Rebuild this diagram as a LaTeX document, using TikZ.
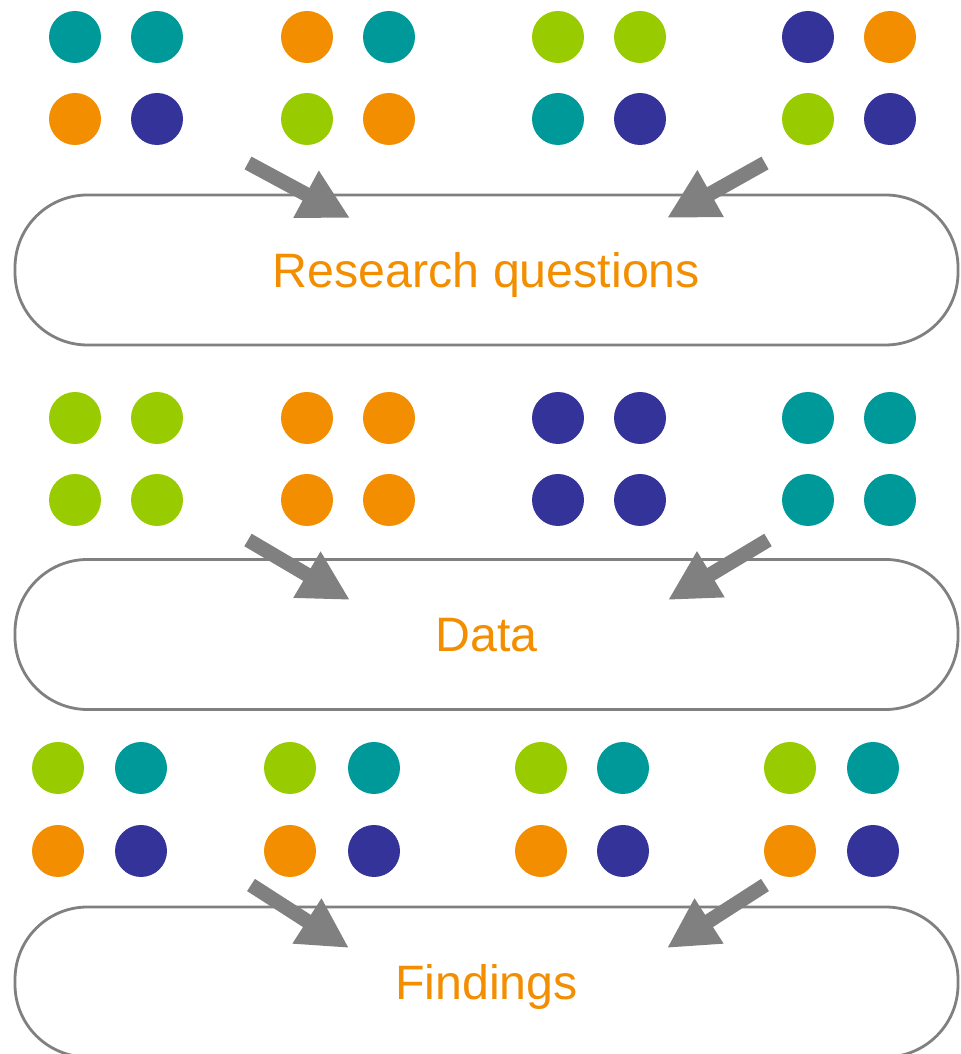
\documentclass[tikz,border=0pt]{standalone}
\usepackage{fontspec}
\setmainfont{Liberation Sans}
\usetikzlibrary{arrows.meta}
\definecolor{teal}{HTML}{009999}
\definecolor{orng}{HTML}{F28E00}
\definecolor{lime}{HTML}{99CC00}
\definecolor{navy}{HTML}{333399}
\definecolor{grau}{HTML}{808080}

\begin{document}
\begin{tikzpicture}[
    dot/.style={circle, inner sep=0pt, minimum size=1.04cm},
    stage/.style={draw=grau, line width=1.6pt, rounded corners=1.45cm,
        minimum width=18.86cm, minimum height=3cm, text=orng, text depth=0pt,
        font=\fontsize{27.5}{33}\selectfont},
    pfeil/.style={draw=grau, line width=0.29cm,
        -{Triangle[length=1cm, width=1cm]}}
]
    \useasboundingbox (0,0) rectangle (19.2,21.08);
    % erste Reihe
    \node[dot, fill=teal] (A1) at (1.5,20.34) {};
    \node[dot, fill=teal] (A2) at (3.14,20.34) {};
    \node[dot, fill=orng] (A3) at (1.5,18.7) {};
    \node[dot, fill=navy] (A4) at (3.14,18.7) {};
    \node[dot, fill=orng] (A5) at (6.14,20.34) {};
    \node[dot, fill=teal] (A6) at (7.78,20.34) {};
    \node[dot, fill=lime] (A7) at (6.14,18.7) {};
    \node[dot, fill=orng] (A8) at (7.78,18.7) {};
    \node[dot, fill=lime] (A9) at (11.16,20.34) {};
    \node[dot, fill=lime] (A10) at (12.8,20.34) {};
    \node[dot, fill=teal] (A11) at (11.16,18.7) {};
    \node[dot, fill=navy] (A12) at (12.8,18.7) {};
    \node[dot, fill=navy] (A13) at (16.16,20.34) {};
    \node[dot, fill=orng] (A14) at (17.8,20.34) {};
    \node[dot, fill=lime] (A15) at (16.16,18.7) {};
    \node[dot, fill=navy] (A16) at (17.8,18.7) {};
    \node[stage] (Q) at (9.73,15.68) {Research questions};
    \coordinate (tA1) at (4.96,17.82);
    \coordinate (hA1) at (7.0,16.72);
    \coordinate (tA2) at (15.3,17.82);
    \coordinate (hA2) at (13.34,16.72);
    \draw[pfeil] (tA1) -- (hA1);
    \draw[pfeil] (tA2) -- (hA2);
    % zweite Reihe
    \node[dot, fill=lime] (B1) at (1.5,12.72) {};
    \node[dot, fill=lime] (B2) at (3.14,12.72) {};
    \node[dot, fill=lime] (B3) at (1.5,11.08) {};
    \node[dot, fill=lime] (B4) at (3.14,11.08) {};
    \node[dot, fill=orng] (B5) at (6.14,12.72) {};
    \node[dot, fill=orng] (B6) at (7.78,12.72) {};
    \node[dot, fill=orng] (B7) at (6.14,11.08) {};
    \node[dot, fill=orng] (B8) at (7.78,11.08) {};
    \node[dot, fill=navy] (B9) at (11.16,12.72) {};
    \node[dot, fill=navy] (B10) at (12.8,12.72) {};
    \node[dot, fill=navy] (B11) at (11.16,11.08) {};
    \node[dot, fill=navy] (B12) at (12.8,11.08) {};
    \node[dot, fill=teal] (B13) at (16.16,12.72) {};
    \node[dot, fill=teal] (B14) at (17.8,12.72) {};
    \node[dot, fill=teal] (B15) at (16.16,11.08) {};
    \node[dot, fill=teal] (B16) at (17.8,11.08) {};
    \node[stage] (D) at (9.73,8.39) {Data};
    \coordinate (tB1) at (4.96,10.28);
    \coordinate (hB1) at (7.0,9.08);
    \coordinate (tB2) at (15.36,10.28);
    \coordinate (hB2) at (13.36,9.08);
    \draw[pfeil] (tB1) -- (hB1);
    \draw[pfeil] (tB2) -- (hB2);
    % dritte Reihe
    \node[dot, fill=lime] (C1) at (1.16,5.72) {};
    \node[dot, fill=teal] (C2) at (2.82,5.72) {};
    \node[dot, fill=orng] (C3) at (1.16,4.06) {};
    \node[dot, fill=navy] (C4) at (2.82,4.06) {};
    \node[dot, fill=lime] (C5) at (5.8,5.72) {};
    \node[dot, fill=teal] (C6) at (7.48,5.72) {};
    \node[dot, fill=orng] (C7) at (5.8,4.06) {};
    \node[dot, fill=navy] (C8) at (7.48,4.06) {};
    \node[dot, fill=lime] (C9) at (10.82,5.72) {};
    \node[dot, fill=teal] (C10) at (12.46,5.72) {};
    \node[dot, fill=orng] (C11) at (10.82,4.06) {};
    \node[dot, fill=navy] (C12) at (12.46,4.06) {};
    \node[dot, fill=lime] (C13) at (15.8,5.72) {};
    \node[dot, fill=teal] (C14) at (17.46,5.72) {};
    \node[dot, fill=orng] (C15) at (15.8,4.06) {};
    \node[dot, fill=navy] (C16) at (17.46,4.06) {};
    \node[stage] (F) at (9.73,1.44) {Findings};
    \coordinate (tC1) at (5.02,3.38);
    \coordinate (hC1) at (6.98,2.12);
    \coordinate (tC2) at (15.3,3.38);
    \coordinate (hC2) at (13.34,2.12);
    \draw[pfeil] (tC1) -- (hC1);
    \draw[pfeil] (tC2) -- (hC2);
\end{tikzpicture}
\end{document}
